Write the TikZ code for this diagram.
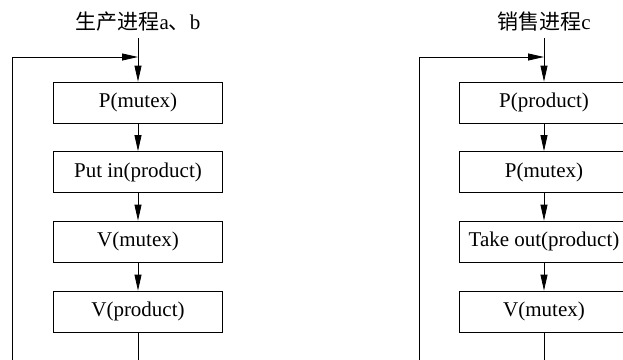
\documentclass[tikz,border=0pt]{standalone}
\usepackage{fontspec}
\setmainfont{Liberation Serif}
\newfontfamily\cjk{Noto Sans CJK SC}
\usetikzlibrary{arrows.meta}
\begin{document}
\begin{tikzpicture}[x=1pt,y=-1pt,
  line width=0.8pt,
  box/.style={draw,minimum width=169pt,minimum height=41pt,inner sep=0pt,font=\fontsize{21}{24}\selectfont},
  ttl/.style={inner sep=0pt,font=\fontsize{21}{24}\selectfont},
  arr/.style={-{Triangle[length=16pt,width=7pt]}}]
\clip (0,0) rectangle (623,359);
\useasboundingbox (0,0) rectangle (623,359);
% left column
\node[ttl] (t1) at (138,22) {{\cjk 生产进程}a{\cjk 、}b};
\node[box] (a1) at (138,102.5) {P(mutex)};
\node[box] (a2) at (138,172) {Put in(product)};
\node[box] (a3) at (138,241.5) {V(mutex)};
\node[box] (a4) at (138,311.5) {V(product)};
\coordinate (ab) at (138,380);
\coordinate (al) at (12,380);
\coordinate (alt) at (12,57);
\coordinate (aj) at (138,57);
\draw[arr] ([yshift=-6pt]t1.south) -- (a1.north);
\draw[arr] (a1) -- (a2);
\draw[arr] (a2) -- (a3);
\draw[arr] (a3) -- (a4);
\draw (a4.south) -- (ab);
\draw[arr] (al) -- (alt) -- (aj);
% right column
\node[ttl] (t2) at (544,22) {{\cjk 销售进程}c};
\node[box] (b1) at (544,102.5) {P(product)};
\node[box] (b2) at (544,172) {P(mutex)};
\node[box] (b3) at (544,241.5) {Take out(product)};
\node[box] (b4) at (544,311.5) {V(mutex)};
\coordinate (bb) at (544,380);
\coordinate (bl) at (419,380);
\coordinate (blt) at (419,57);
\coordinate (bj) at (544,57);
\draw[arr] ([yshift=-6pt]t2.south) -- (b1.north);
\draw[arr] (b1) -- (b2);
\draw[arr] (b2) -- (b3);
\draw[arr] (b3) -- (b4);
\draw (b4.south) -- (bb);
\draw[arr] (bl) -- (blt) -- (bj);
\end{tikzpicture}
\end{document}
